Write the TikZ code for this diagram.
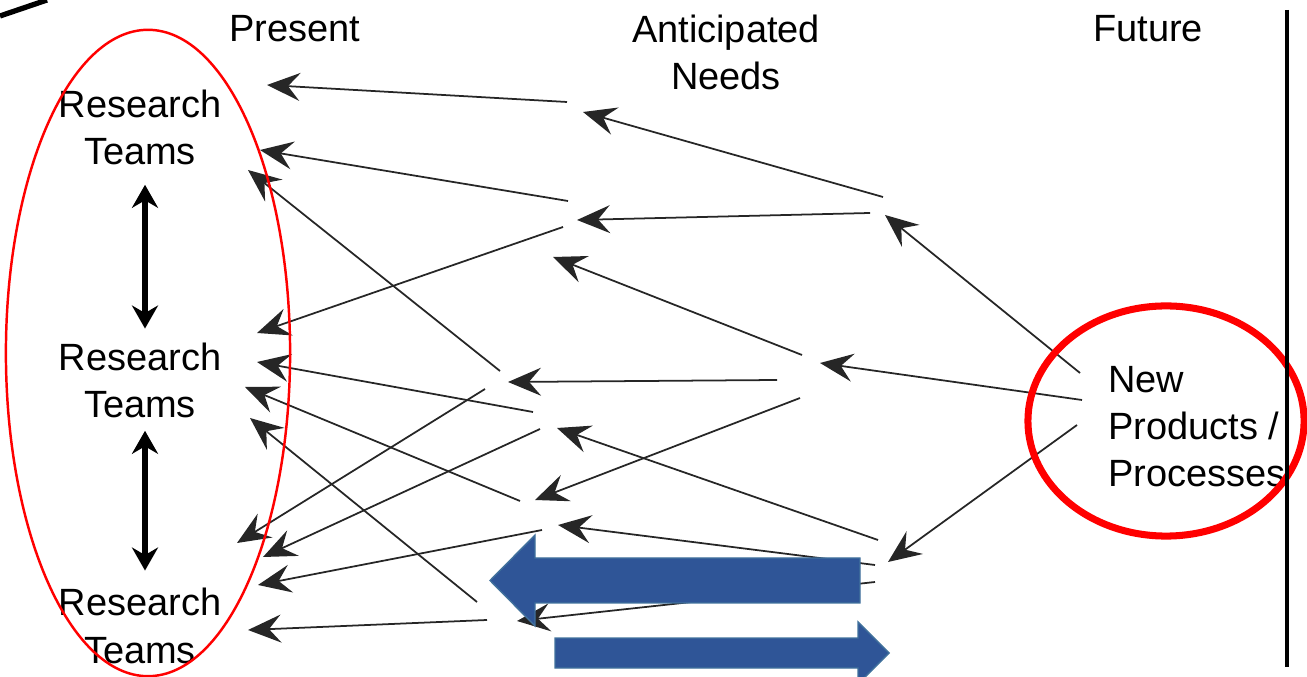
\documentclass[tikz,border=0pt]{standalone}
\usepackage{fontspec}
\setmainfont{Liberation Sans}
\usetikzlibrary{arrows.meta}

\definecolor{arrowblue}{RGB}{47,85,151}
\definecolor{arrowedge}{RGB}{65,113,156}

\tikzset{
  lbl/.style={anchor=base, align=center, font=\fontsize{10.8}{13.5}\selectfont},
  link/.style={draw=black!85, line width=0.5pt, -{Stealth[length=3.3mm,width=2.8mm,inset=1.2mm]}},
  teamlink/.style={line width=1.5pt, {Stealth[length=2.3mm,width=2.6mm]}-{Stealth[length=2.3mm,width=2.6mm]}},
  bigarrow/.style={fill=arrowblue, draw=arrowedge, line width=0.4pt},
}

\begin{document}
\begin{tikzpicture}[x=0.01cm, y=-0.01cm]
  \useasboundingbox (0,0) rectangle (1307,677);
  % column headings
  \node[lbl] (present) at (295,42) {Present};
  \node[lbl] (needs) at (726,90) {Anticipated\\Needs};
  \node[lbl] (future) at (1148,42) {Future};
  % research teams and the future outcome
  \node[lbl] (rt1) at (140,165) {Research\\Teams};
  \node[lbl] (rt2) at (140,418) {Research\\Teams};
  \node[lbl] (rt3) at (140,663) {Research\\Teams};
  \node[lbl, align=left, anchor=base west] (np) at (1096,487) {New\\Products /\\Processes};
  \draw[teamlink, shorten <=0.07cm, shorten >=0.02cm] ([xshift=0.05cm]rt1.south) -- ([xshift=0.05cm]rt2.north);
  \draw[teamlink, shorten >=0.05cm] ([xshift=0.05cm]rt2.south) -- ([xshift=0.05cm]rt3.north);
  % needs flowing back from the future to the present
  \foreach \n/\tx/\ty/\hx/\hy in {p1/567/102/267/85, p2/568/201/260/150, p3/500/371/248/170,
      p4/563/227/257/333, p5/533/412/257/362, p6/520/501/245/387, p7/477/602/250/418,
      p8/485/389/237/543, p9/540/429/263/557, p10/542/530/258/585, p11/487/620/248/630,
      a1/883/197/583/112, a2/870/213/577/220, a3/802/355/553/257, a4/777/380/508/382,
      a5/878/540/557/428, a6/800/398/535/500, a7/875/565/558/525, a8/875/582/517/621,
      f1/1080/373/885/215, f2/1082/400/820/363, f3/1077/425/888/562} {
    \coordinate (\n t) at (\tx,\ty);
    \coordinate (\n h) at (\hx,\hy);
    \draw[link] (\n t) -- (\n h);
  }
  % highlights
  \draw[red, line width=0.7pt] (148,353) ellipse [x radius=1.42cm, y radius=3.23cm];
  \draw[red, line width=2pt] (1166,421) ellipse [x radius=1.38cm, y radius=1.15cm];
  \draw[line width=1.4pt] (1287,10) -- (1287,667);
  \draw[line width=1.5pt] (0,16) -- (47,0);
  % big arrows
  \draw[bigarrow] (860,558) -- (535,558) -- (535,535) -- (490,580.5) -- (535,626) -- (535,603) -- (860,603) -- cycle;
  \draw[bigarrow] (555,638) -- (858,638) -- (858,622) -- (889,653) -- (858,684) -- (858,668) -- (555,668) -- cycle;
\end{tikzpicture}
\end{document}
